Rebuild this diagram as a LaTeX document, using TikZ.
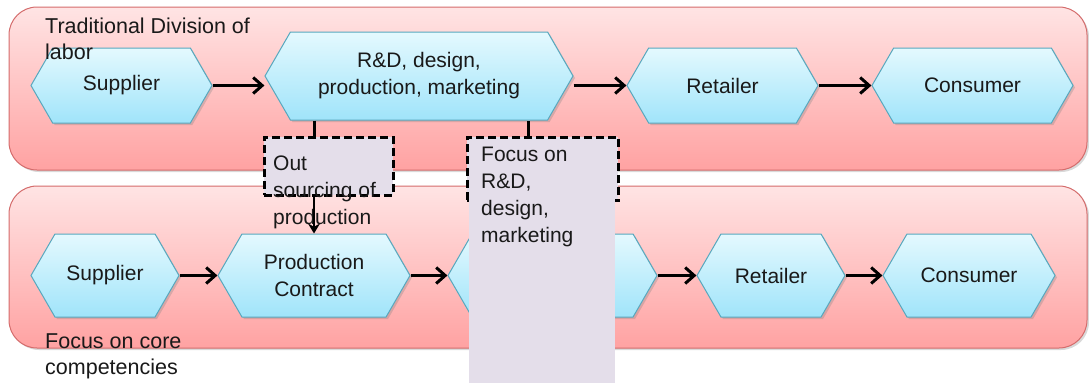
\documentclass[tikz,border=0pt]{standalone}
\usepackage{fontspec}
\setmainfont{Liberation Sans}
\usetikzlibrary{shapes.symbols,arrows.meta,shadows}
\definecolor{pinktop}{RGB}{255,228,228}
\definecolor{pinkbot}{RGB}{255,162,162}
\definecolor{pinkline}{RGB}{212,108,108}
\definecolor{hextop}{RGB}{228,249,254}
\definecolor{hexbot}{RGB}{160,228,250}
\definecolor{hexline}{RGB}{88,168,190}
\definecolor{lavender}{RGB}{228,222,234}
\definecolor{ink}{RGB}{25,25,25}

\begin{document}
\begin{tikzpicture}[x=1pt,y=-1pt,
    panel/.style={draw=pinkline,line width=1pt,rounded corners=28pt,
      top color=pinktop,bottom color=pinkbot,
      drop shadow={shadow xshift=2pt,shadow yshift=-2pt,opacity=0.3}},
    hex/.style={signal,signal to=east and west,signal pointer angle=120,
      draw=hexline,line width=1pt,top color=hextop,bottom color=hexbot,
      drop shadow={shadow xshift=2pt,shadow yshift=-2pt,opacity=0.3},
      text=ink,align=center,inner sep=0pt,font=\fontsize{21}{27}\selectfont},
    flow/.style={-{Straight Barb[length=9pt,width=16pt]},line width=3pt},
    link/.style={line width=3pt},
    notebox/.style={draw=black,fill=lavender,line width=3pt,dash pattern=on 8pt off 4pt,inner sep=0pt},
    boxtext/.style={text=ink,align=left,inner sep=0pt,font=\fontsize{21}{27}\selectfont},
    lbl/.style={text=ink,align=left,inner sep=0pt,font=\fontsize{21.5}{26}\selectfont}]
  \useasboundingbox (0,0) rectangle (1089,383);

  \draw[panel] (9,7) rectangle (1087,170);
  \draw[panel] (9,186) rectangle (1087,348);

  \node[hex,minimum width=181pt,minimum height=75pt] (supT) at (121.5,85.5) {Supplier};
  \node[hex,minimum width=308pt,minimum height=88pt] (rdT) at (419,76) {R\&D, design,\\production, marketing};
  \node[hex,minimum width=191pt,minimum height=75pt] (retT) at (722.5,85.5) {Retailer};
  \node[hex,minimum width=201pt,minimum height=75pt] (conT) at (972.5,85.5) {Consumer};

  \node[hex,minimum width=148pt,minimum height=83pt] (supB) at (105,275.5) {Supplier};
  \node[hex,minimum width=192pt,minimum height=83pt] (prodB) at (314,275.5) {Production\\Contract};
  \node[hex,minimum width=209pt,minimum height=83pt] (midB) at (552.5,275.5) {};
  \node[hex,minimum width=148pt,minimum height=83pt] (retB) at (771,275.5) {Retailer};
  \node[hex,minimum width=172pt,minimum height=83pt] (conB) at (969,275.5) {Consumer};

  \draw[flow] (supT.east) -- (supT.east -| rdT.west);
  \draw[flow] (rdT.east |- retT.west) -- (retT.west);
  \draw[flow] (retT.east) -- (conT.west);
  \draw[flow] (supB.east) -- (prodB.west);
  \draw[flow] (prodB.east) -- (midB.west);
  \draw[flow] (midB.east) -- (retB.west);
  \draw[flow] (retB.east) -- (conB.west);

  \node[notebox,minimum width=129pt,minimum height=58pt] (outBox) at (328.5,166) {};
  \draw[link] (prodB.north |- rdT.south) -- (prodB.north |- outBox.north);
  \node[boxtext,anchor=north west] (outText) at (273,156) {Out\\sourcing of\\production};
  \draw[-{Stealth[length=10pt,width=12pt]},line width=2.5pt] (prodB.north |- outBox.south) -- (prodB.north);

  \node[notebox,minimum width=151pt,minimum height=63pt] (focusBox) at (542.5,168.5) {};
  \draw[link] (focusBox.north -| 528,0) -- (rdT.south -| 528,0);
  \node[fill=lavender,inner sep=0pt,anchor=north west,minimum width=146pt,minimum height=243pt] (focusFill) at (469,140) {};
  \node[boxtext,anchor=north west] (focusText) at (481,147) {Focus on\\R\&D,\\design,\\marketing};

  \node[lbl,anchor=north west] (topLabel) at (45,18) {Traditional Division of\\labor};
  \node[lbl,anchor=north west] (botLabel) at (45,334) {Focus on core\\competencies};
\end{tikzpicture}
\end{document}
